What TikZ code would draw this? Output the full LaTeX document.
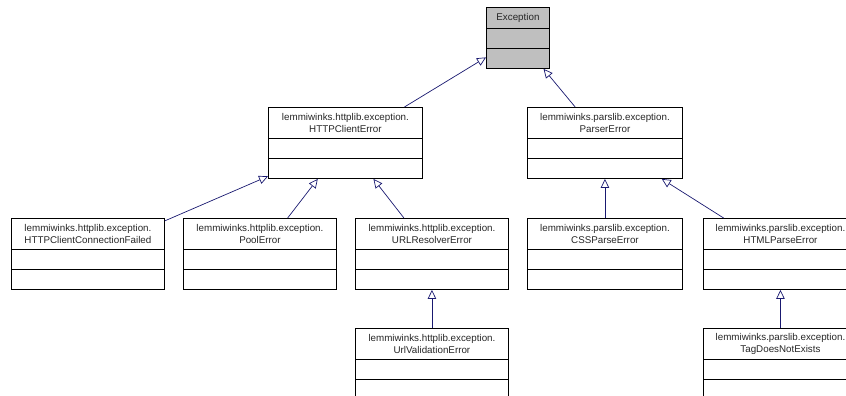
\documentclass[tikz,border=0pt]{standalone}
\usepackage{fontspec}
\setmainfont{Liberation Sans}
\usetikzlibrary{arrows.meta,calc}
\definecolor{edgeblue}{HTML}{191970}
\definecolor{hilite}{HTML}{BFBFBF}
\tikzset{
  clsbox/.style={draw=black, line width=0.9pt, rectangle, inner sep=0pt, anchor=north west},
  clstext/.style={align=center, font=\fontsize{9.8}{12.5}\selectfont, inner sep=0pt, text=black!85},
  sepline/.style={draw=black, line width=0.9pt},
  edge/.style={draw=edgeblue, line width=0.7pt, -{Triangle[open, fill=white, length=9pt, width=8.5pt, line width=0.7pt]}},
}
% #1 name, #2 x, #3 y, #4 width, #5 title height, #6 text, #7 extra style
\newcommand\umlclass[7]{%
  \node[clsbox, minimum width=#4pt, minimum height=#5pt+40pt, #7] (#1) at (#2,#3) {};
  \draw[sepline] ($(#1.north west)+(0,#5)$) -- ++(#4,0);
  \draw[sepline] ($(#1.north west)+(0,#5+20)$) -- ++(#4,0);
  \node[clstext] at ($(#1.north)+(0,#5/2+0.5)$) {#6};
}
\begin{document}
\begin{tikzpicture}[x=1pt,y=-1pt]
\useasboundingbox (0,0) rectangle (846,396);
\umlclass{exc}{486}{7}{63}{21}{Exception}{fill=hilite}
\umlclass{hce}{268}{107}{154}{31}{lemmiwinks.httplib.exception.\\HTTPClientError}{}
\umlclass{pe}{527}{107}{155}{31}{lemmiwinks.parslib.exception.\\ParserError}{}
\umlclass{hccf}{11}{218}{153}{31}{lemmiwinks.httplib.exception.\\HTTPClientConnectionFailed}{}
\umlclass{pool}{183}{218}{153}{31}{lemmiwinks.httplib.exception.\\PoolError}{}
\umlclass{url}{355}{218}{153}{31}{lemmiwinks.httplib.exception.\\URLResolverError}{}
\umlclass{css}{527}{218}{155}{31}{lemmiwinks.parslib.exception.\\CSSParseError}{}
\umlclass{html}{703}{218}{154}{31}{lemmiwinks.parslib.exception.\\HTMLParseError}{}
\umlclass{uval}{355}{328}{153}{31}{lemmiwinks.httplib.exception.\\UrlValidationError}{}
\umlclass{tag}{703}{328}{154}{31}{lemmiwinks.parslib.exception.\\TagDoesNotExists}{}
\draw[edge] (hce) -- (exc);
\draw[edge] (pe) -- (exc);
\draw[edge] (hccf) -- (hce);
\draw[edge] (pool) -- (hce);
\draw[edge] (url) -- (hce);
\draw[edge] (css) -- (pe);
\draw[edge] (html) -- (pe);
\draw[edge] (uval) -- (url);
\draw[edge] (tag) -- (html);
\end{tikzpicture}
\end{document}
